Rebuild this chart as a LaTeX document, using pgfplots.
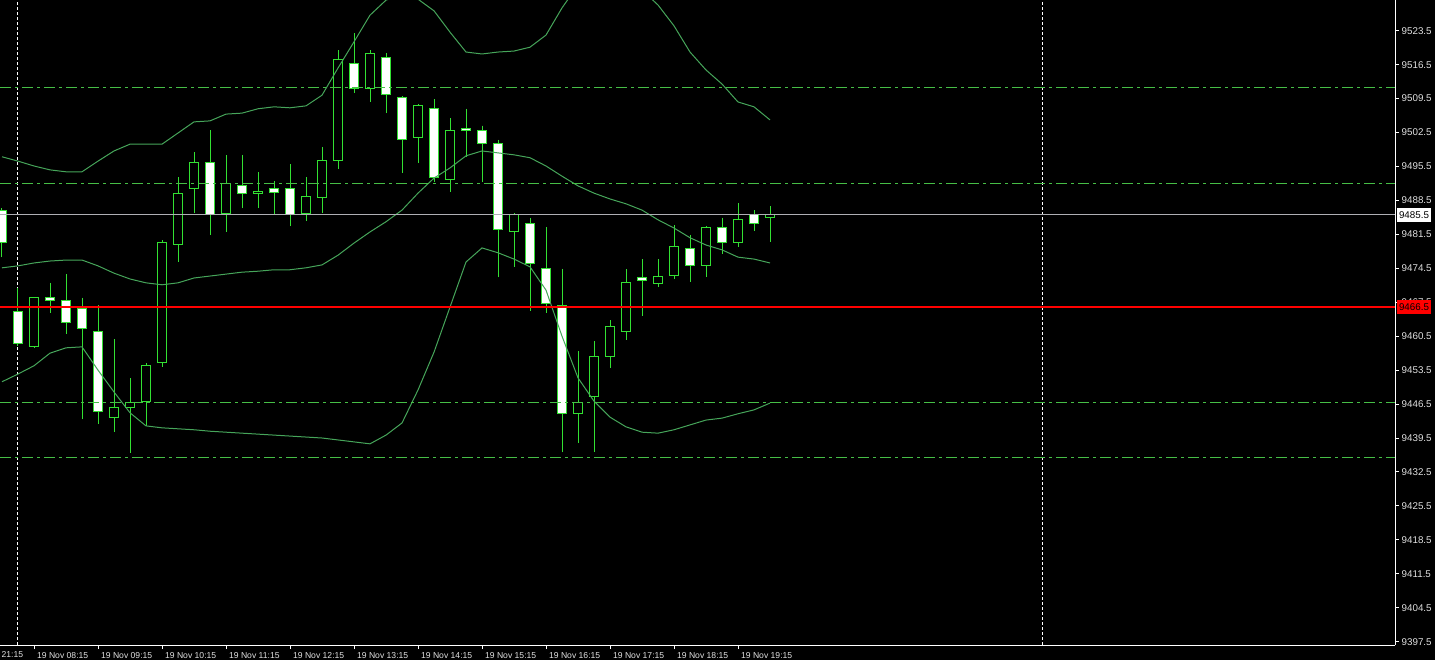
\documentclass[border=0pt]{standalone}
\usepackage{fontspec}
\setmainfont{Liberation Sans}
\usepackage{pgfplots}
\usepackage{pgfplotstable}
\pgfplotsset{compat=1.18}
\usepgfplotslibrary{statistics}

\definecolor{candle}{RGB}{50,225,50}
\definecolor{band}{RGB}{70,165,90}
\definecolor{level}{RGB}{70,190,70}
\definecolor{bidgray}{RGB}{175,175,180}
\definecolor{ticktext}{RGB}{225,225,225}

\pgfplotsset{
  candle body/.style={draw=candle, line width=0.5pt, solid},
}
% \bull / \bear {index}{open}{high}{low}{close}
\newcommand{\bull}[5]{%
  \addplot[candle body, fill=black, boxplot prepared={draw position=#1,
    lower whisker=#4, lower quartile=#2, median=#5, upper quartile=#5, upper whisker=#3}] coordinates {};}
\newcommand{\bear}[5]{%
  \addplot[candle body, fill=white, boxplot prepared={draw position=#1,
    lower whisker=#4, lower quartile=#5, median=#2, upper quartile=#2, upper whisker=#3}] coordinates {};}

% Bollinger bands, one row per 15 min bar
\pgfplotstableread{
i  up      mid     lo
0  9497.5  9474.6  9451.1
1  9496.6  9475.0  9452.7
2  9495.6  9475.6  9454.4
3  9494.8  9476.0  9457.0
4  9494.4  9476.2  9458.1
5  9494.4  9476.2  9458.3
6  9496.6  9475.0  9453.5
7  9498.7  9473.5  9449.0
8  9500.1  9472.3  9444.7
9  9500.1  9471.5  9442.0
10 9500.1  9471.1  9441.6
11 9502.4  9471.5  9441.4
12 9504.7  9472.5  9441.2
13 9504.9  9472.9  9440.9
14 9506.3  9473.3  9440.7
15 9506.5  9473.7  9440.5
16 9507.4  9473.9  9440.3
17 9507.8  9474.2  9440.1
18 9507.6  9474.2  9439.9
19 9508.0  9474.6  9439.7
20 9510.2  9475.2  9439.5
21 9515.8  9477.2  9439.1
22 9521.2  9479.7  9438.7
23 9526.7  9482.0  9438.3
24 9529.8  9484.1  9440.1
25 9531.1  9486.5  9442.6
26 9530.0  9490.0  9449.4
27 9527.6  9493.1  9457.2
28 9523.2  9495.2  9466.5
29 9519.1  9497.7  9475.8
30 9518.7  9498.7  9478.7
31 9519.1  9498.3  9477.7
32 9519.3  9497.9  9476.4
33 9520.1  9497.3  9474.8
34 9522.6  9495.6  9470.0
35 9528.2  9493.5  9460.5
36 9532.9  9491.5  9451.9
37 9535.0  9490.0  9447.1
38 9535.6  9488.8  9443.8
39 9535.0  9487.8  9441.8
40 9531.9  9486.5  9440.7
41 9528.8  9484.5  9440.5
42 9524.5  9482.8  9441.2
43 9519.1  9480.8  9442.2
44 9515.4  9479.3  9443.2
45 9512.5  9478.3  9443.6
46 9508.8  9476.8  9444.5
47 9507.8  9476.4  9445.3
48 9505.1  9475.6  9446.7
}\bands

\begin{document}
\begin{tikzpicture}
\fill[black] (0,0) rectangle (717.5pt,-330pt);
\path[use as bounding box] (0,0) rectangle (717.5pt,-330pt);
\begin{axis}[
    at={(0,0)}, anchor=north west,
    width=697.5pt, height=322.5pt, scale only axis,
    xmin=-0.125, xmax=87.0625,
    ymin=9396.81, ymax=9529.83,
    axis x line=bottom, axis y line=right,
    axis line style={-, white, line width=0.5pt},
    tick style={white, line width=0.5pt},
    major tick length=2pt, tick align=outside,
    ticklabel style={text=ticktext},
    ytick={9397.5,9404.5,...,9523.5},
    yticklabel style={anchor=west, xshift=-2.2pt, font=\fontsize{4.9}{5}\selectfont,
      /pgf/number format/.cd, fixed, fixed zerofill, precision=1, 1000 sep={}, assume math mode=true},
    xtick={2,6,...,46},
    xticklabels={19 Nov 08:15, 19 Nov 09:15, 19 Nov 10:15, 19 Nov 11:15, 19 Nov 12:15, 19 Nov 13:15,
      19 Nov 14:15, 19 Nov 15:15, 19 Nov 16:15, 19 Nov 17:15, 19 Nov 18:15, 19 Nov 19:15},
    xticklabel style={anchor=north west, xshift=-2pt, yshift=1.8pt, font=\fontsize{4.3}{5}\selectfont},
    boxplot/draw direction=y,
    boxplot/box extend=0.6,
    boxplot/whisker extend=0,
]
% day separators
\addplot[white, line width=0.5pt, dash pattern=on 1.5pt off 1pt] coordinates {(1,9396.81) (1,9529.83)};
\addplot[white, line width=0.5pt, dash pattern=on 1.5pt off 1pt] coordinates {(65.06,9396.81) (65.06,9529.83)};

\bear{0}{9486.5}{9486.9}{9476.8}{9479.9}
\bear{1}{9465.5}{9470.4}{9458.5}{9458.9}
\bull{2}{9458.3}{9468.6}{9458.1}{9468.4}
\bear{3}{9468.4}{9471.5}{9465.3}{9467.9}
\bear{4}{9467.8}{9473.3}{9461.0}{9463.4}
\bear{5}{9466.3}{9468.4}{9443.4}{9462.0}
\bear{6}{9461.4}{9466.9}{9442.4}{9444.9}
\bull{7}{9443.8}{9459.9}{9440.7}{9445.7}
\bull{8}{9445.7}{9451.9}{9436.4}{9446.9}
\bull{9}{9447.1}{9455.0}{9442.0}{9454.4}
\bull{10}{9455.0}{9480.3}{9454.1}{9479.9}
\bull{11}{9479.5}{9493.3}{9475.8}{9490.0}
\bull{12}{9490.9}{9498.5}{9485.9}{9496.4}
\bear{13}{9496.4}{9503.0}{9481.4}{9485.5}
\bull{14}{9485.9}{9497.9}{9482.0}{9491.9}
\bear{15}{9491.5}{9497.9}{9486.9}{9490.0}
\bull{16}{9490.0}{9494.4}{9486.9}{9490.4}
\bear{17}{9490.9}{9492.5}{9485.5}{9490.2}
\bear{18}{9490.9}{9496.0}{9483.2}{9485.5}
\bull{19}{9485.9}{9493.3}{9484.3}{9489.4}
\bull{20}{9489.0}{9499.5}{9485.9}{9496.8}
\bull{21}{9496.8}{9519.5}{9495.0}{9517.5}
\bear{22}{9516.8}{9523.0}{9510.7}{9511.5}
\bull{23}{9511.5}{9519.5}{9508.8}{9518.9}
\bear{24}{9517.9}{9518.9}{9506.5}{9510.4}
\bear{25}{9509.8}{9510.0}{9494.2}{9501.0}
\bull{26}{9501.4}{9508.4}{9496.2}{9508.0}
\bear{27}{9507.4}{9509.4}{9492.3}{9493.3}
\bull{28}{9492.9}{9505.5}{9490.2}{9503.0}
\bear{29}{9503.4}{9507.4}{9497.5}{9503.0}
\bear{30}{9503.0}{9503.9}{9492.3}{9500.3}
\bear{31}{9500.3}{9501.0}{9472.7}{9482.4}
\bull{32}{9482.0}{9485.9}{9474.8}{9485.5}
\bear{33}{9483.8}{9484.9}{9465.7}{9475.4}
\bear{34}{9474.4}{9483.0}{9465.3}{9467.3}
\bear{35}{9466.9}{9474.4}{9436.6}{9444.5}
\bull{36}{9444.5}{9457.4}{9438.5}{9446.9}
\bull{37}{9448.0}{9459.5}{9436.6}{9456.4}
\bull{38}{9456.4}{9463.8}{9453.9}{9462.4}
\bull{39}{9461.4}{9474.4}{9459.7}{9471.5}
\bear{40}{9472.5}{9476.4}{9464.7}{9471.9}
\bull{41}{9471.3}{9476.4}{9470.6}{9472.9}
\bull{42}{9473.1}{9483.4}{9472.3}{9478.9}
\bear{43}{9478.5}{9481.4}{9471.7}{9475.0}
\bull{44}{9475.0}{9483.2}{9472.7}{9483.0}
\bear{45}{9483.0}{9484.9}{9477.5}{9479.9}
\bull{46}{9479.9}{9488.0}{9478.9}{9484.5}
\bear{47}{9485.5}{9486.5}{9482.2}{9483.8}
\bull{48}{9484.9}{9487.4}{9479.9}{9485.5}

% bands
\addplot[band, line width=0.5pt, mark=none] table[x=i, y=up] {\bands};
\addplot[band, line width=0.5pt, mark=none] table[x=i, y=mid] {\bands};
\addplot[band, line width=0.5pt, mark=none] table[x=i, y=lo] {\bands};

% horizontal levels
\addplot[level, line width=0.5pt, dash pattern=on 5.5pt off 2pt on 1.5pt off 2pt] coordinates {(-0.125,9511.7) (87.0625,9511.7)};
\addplot[level, line width=0.5pt, dash pattern=on 5.5pt off 2pt on 1.5pt off 2pt] coordinates {(-0.125,9491.9) (87.0625,9491.9)};
\addplot[level, line width=0.5pt, dash pattern=on 5.5pt off 2pt on 1.5pt off 2pt] coordinates {(-0.125,9446.9) (87.0625,9446.9)};
\addplot[level, line width=0.5pt, dash pattern=on 5.5pt off 2pt on 1.5pt off 2pt] coordinates {(-0.125,9435.4) (87.0625,9435.4)};
\addplot[bidgray, line width=0.5pt] coordinates {(-0.125,9485.5) (87.0625,9485.5)};
\addplot[red, line width=0.65pt] coordinates {(-0.125,9466.5) (87.0625,9466.5)};
\end{axis}
\node[anchor=north east, text=ticktext, font=\fontsize{4.3}{5}\selectfont, inner sep=1pt] at (12.8pt,-324.3pt) {21:15};
\node[anchor=west, fill=white, text=black, font=\fontsize{4.9}{5}\selectfont, inner sep=1pt, minimum height=7pt]
  at (698.3pt,-107.5pt) {9485.5};
\node[anchor=west, fill=red, text=black, font=\fontsize{4.9}{5}\selectfont, inner sep=1pt, minimum height=7pt]
  at (698.3pt,-153.5pt) {9466.5};
\end{tikzpicture}
\end{document}
